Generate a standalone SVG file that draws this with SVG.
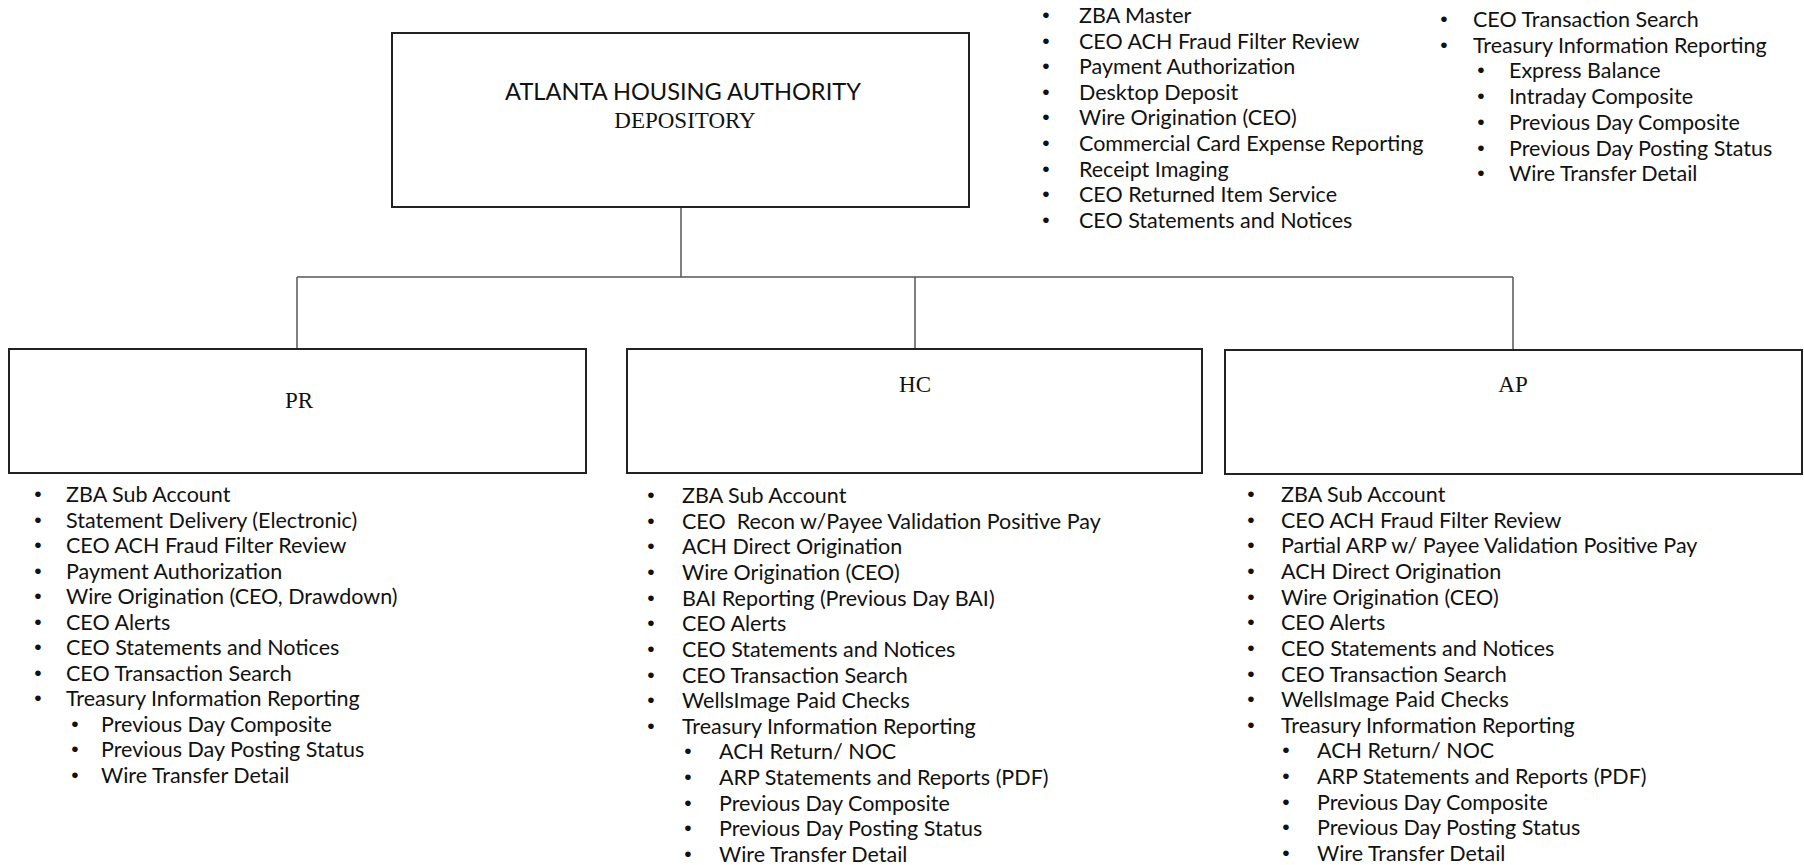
<svg xmlns="http://www.w3.org/2000/svg" width="1804" height="865" viewBox="0 0 1804 865">
<style>
.box{fill:#fff;stroke:#222;stroke-width:2}
.con{fill:none;stroke:#555;stroke-width:1.5}
.t{font-family:Lato,"Open Sans",sans-serif;font-size:21.5px;fill:#111}
.s{font-family:"Liberation Serif",serif;font-size:23px;fill:#111}
.b{font-family:"Liberation Sans",sans-serif;font-size:21px;fill:#111;text-anchor:middle}
</style>
<rect width="1804" height="865" fill="#fff"/>
<g id="connectors">
<path class="con" d="M681 207V277M297 277H1513M297 277V349M915 277V349M1513 277V350"/>
</g>
<g id="root">
<rect class="box" x="392" y="33" width="577" height="174"/>
<text class="t" x="683" y="100" text-anchor="middle" style="font-size:23.6px">ATLANTA HOUSING AUTHORITY</text>
<text class="s" x="685" y="128" text-anchor="middle">DEPOSITORY</text>
</g>
<g id="root-list-1">
<text class="b" x="1046" y="22">•</text><text class="t" x="1079" y="23">ZBA Master</text>
<text class="b" x="1046" y="47.6">•</text><text class="t" x="1079" y="48.6">CEO ACH Fraud Filter Review</text>
<text class="b" x="1046" y="73.2">•</text><text class="t" x="1079" y="74.2">Payment Authorization</text>
<text class="b" x="1046" y="98.8">•</text><text class="t" x="1079" y="99.8">Desktop Deposit</text>
<text class="b" x="1046" y="124.4">•</text><text class="t" x="1079" y="125.4">Wire Origination (CEO)</text>
<text class="b" x="1046" y="150">•</text><text class="t" x="1079" y="151">Commercial Card Expense Reporting</text>
<text class="b" x="1046" y="175.6">•</text><text class="t" x="1079" y="176.6">Receipt Imaging</text>
<text class="b" x="1046" y="201.2">•</text><text class="t" x="1079" y="202.2">CEO Returned Item Service</text>
<text class="b" x="1046" y="226.8">•</text><text class="t" x="1079" y="227.8">CEO Statements and Notices</text>
</g>
<g id="root-list-2">
<text class="b" x="1444" y="26">•</text><text class="t" x="1473" y="27">CEO Transaction Search</text>
<text class="b" x="1444" y="51.7">•</text><text class="t" x="1473" y="52.7">Treasury Information Reporting</text>
<text class="b" x="1481" y="77.4">•</text><text class="t" x="1509" y="78.4">Express Balance</text>
<text class="b" x="1481" y="103.1">•</text><text class="t" x="1509" y="104.1">Intraday Composite</text>
<text class="b" x="1481" y="128.8">•</text><text class="t" x="1509" y="129.8">Previous Day Composite</text>
<text class="b" x="1481" y="154.5">•</text><text class="t" x="1509" y="155.5">Previous Day Posting Status</text>
<text class="b" x="1481" y="180.2">•</text><text class="t" x="1509" y="181.2">Wire Transfer Detail</text>
</g>
<g id="pr">
<rect class="box" x="9" y="349" width="577" height="124"/>
<text class="s" x="299" y="408" text-anchor="middle">PR</text>
</g>
<g id="pr-list">
<text class="b" x="38" y="501">•</text><text class="t" x="66" y="502">ZBA Sub Account</text>
<text class="b" x="38" y="526.5">•</text><text class="t" x="66" y="527.5">Statement Delivery (Electronic)</text>
<text class="b" x="38" y="552">•</text><text class="t" x="66" y="553">CEO ACH Fraud Filter Review</text>
<text class="b" x="38" y="577.6">•</text><text class="t" x="66" y="578.6">Payment Authorization</text>
<text class="b" x="38" y="603.1">•</text><text class="t" x="66" y="604.1">Wire Origination (CEO, Drawdown)</text>
<text class="b" x="38" y="628.6">•</text><text class="t" x="66" y="629.6">CEO Alerts</text>
<text class="b" x="38" y="654.1">•</text><text class="t" x="66" y="655.1">CEO Statements and Notices</text>
<text class="b" x="38" y="679.6">•</text><text class="t" x="66" y="680.6">CEO Transaction Search</text>
<text class="b" x="38" y="705.2">•</text><text class="t" x="66" y="706.2">Treasury Information Reporting</text>
<text class="b" x="75" y="730.7">•</text><text class="t" x="101" y="731.7">Previous Day Composite</text>
<text class="b" x="75" y="756.2">•</text><text class="t" x="101" y="757.2">Previous Day Posting Status</text>
<text class="b" x="75" y="781.7">•</text><text class="t" x="101" y="782.7">Wire Transfer Detail</text>
</g>
<g id="hc">
<rect class="box" x="627" y="349" width="575" height="124"/>
<text class="s" x="915" y="392" text-anchor="middle">HC</text>
</g>
<g id="hc-list">
<text class="b" x="651" y="502">•</text><text class="t" x="682" y="503">ZBA Sub Account</text>
<text class="b" x="651" y="527.6">•</text><text class="t" x="682" y="528.6" xml:space="preserve">CEO  Recon w/Payee Validation Positive Pay</text>
<text class="b" x="651" y="553.3">•</text><text class="t" x="682" y="554.3">ACH Direct Origination</text>
<text class="b" x="651" y="578.9">•</text><text class="t" x="682" y="579.9">Wire Origination (CEO)</text>
<text class="b" x="651" y="604.6">•</text><text class="t" x="682" y="605.6">BAI Reporting (Previous Day BAI)</text>
<text class="b" x="651" y="630.2">•</text><text class="t" x="682" y="631.2">CEO Alerts</text>
<text class="b" x="651" y="655.8">•</text><text class="t" x="682" y="656.8">CEO Statements and Notices</text>
<text class="b" x="651" y="681.5">•</text><text class="t" x="682" y="682.5">CEO Transaction Search</text>
<text class="b" x="651" y="707.1">•</text><text class="t" x="682" y="708.1">WellsImage Paid Checks</text>
<text class="b" x="651" y="732.8">•</text><text class="t" x="682" y="733.8">Treasury Information Reporting</text>
<text class="b" x="688" y="758.4">•</text><text class="t" x="719" y="759.4">ACH Return/ NOC</text>
<text class="b" x="688" y="784">•</text><text class="t" x="719" y="785">ARP Statements and Reports (PDF)</text>
<text class="b" x="688" y="809.7">•</text><text class="t" x="719" y="810.7">Previous Day Composite</text>
<text class="b" x="688" y="835.3">•</text><text class="t" x="719" y="836.3">Previous Day Posting Status</text>
<text class="b" x="688" y="861">•</text><text class="t" x="719" y="862">Wire Transfer Detail</text>
</g>
<g id="ap">
<rect class="box" x="1225" y="350" width="577" height="124"/>
<text class="s" x="1513" y="392" text-anchor="middle">AP</text>
</g>
<g id="ap-list">
<text class="b" x="1251" y="501">•</text><text class="t" x="1281" y="502">ZBA Sub Account</text>
<text class="b" x="1251" y="526.6">•</text><text class="t" x="1281" y="527.6">CEO ACH Fraud Filter Review</text>
<text class="b" x="1251" y="552.3">•</text><text class="t" x="1281" y="553.3">Partial ARP w/ Payee Validation Positive Pay</text>
<text class="b" x="1251" y="577.9">•</text><text class="t" x="1281" y="578.9">ACH Direct Origination</text>
<text class="b" x="1251" y="603.6">•</text><text class="t" x="1281" y="604.6">Wire Origination (CEO)</text>
<text class="b" x="1251" y="629.2">•</text><text class="t" x="1281" y="630.2">CEO Alerts</text>
<text class="b" x="1251" y="654.8">•</text><text class="t" x="1281" y="655.8">CEO Statements and Notices</text>
<text class="b" x="1251" y="680.5">•</text><text class="t" x="1281" y="681.5">CEO Transaction Search</text>
<text class="b" x="1251" y="706.1">•</text><text class="t" x="1281" y="707.1">WellsImage Paid Checks</text>
<text class="b" x="1251" y="731.8">•</text><text class="t" x="1281" y="732.8">Treasury Information Reporting</text>
<text class="b" x="1286" y="757.4">•</text><text class="t" x="1317" y="758.4">ACH Return/ NOC</text>
<text class="b" x="1286" y="783">•</text><text class="t" x="1317" y="784">ARP Statements and Reports (PDF)</text>
<text class="b" x="1286" y="808.7">•</text><text class="t" x="1317" y="809.7">Previous Day Composite</text>
<text class="b" x="1286" y="834.3">•</text><text class="t" x="1317" y="835.3">Previous Day Posting Status</text>
<text class="b" x="1286" y="860">•</text><text class="t" x="1317" y="861">Wire Transfer Detail</text>
</g>
</svg>
